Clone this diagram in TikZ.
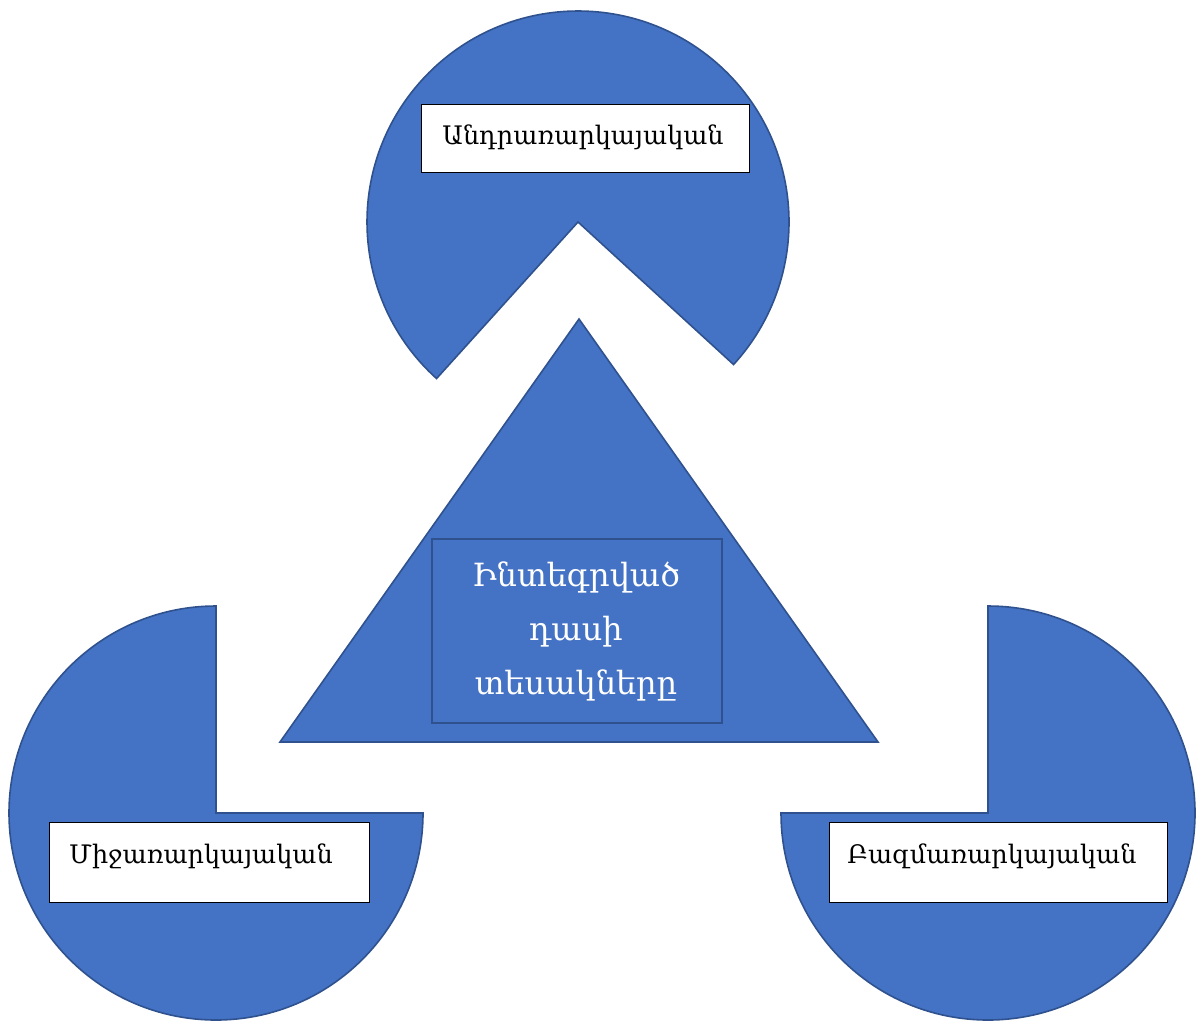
\documentclass[tikz,border=0pt]{standalone}
\usepackage{fontspec}
\setmainfont{DejaVu Serif}
\definecolor{blueF}{HTML}{4472C4}
\definecolor{blueD}{HTML}{2F528F}
\begin{document}
\begin{tikzpicture}[x=1pt,y=-1pt,
  shp/.style={fill=blueF,draw=blueD,line width=1.6pt,line join=miter},
  lblbox/.style={draw=black,fill=white,line width=0.9pt,inner sep=0pt,anchor=north west},
  lbltxt/.style={anchor=base,inner sep=0pt,font=\fontsize{25.5}{30}\selectfont},
  ctxt/.style={anchor=base,inner sep=0pt,text=white,font=\fontsize{32}{38}\selectfont}]
\useasboundingbox (0,0) rectangle (1198,1021);
% top pie
\draw[shp] (578,222) -- ++(132.1:211) arc[start angle=132.1,end angle=402.5,radius=211] -- cycle;
% bottom-left pie
\draw[shp] (216,813) -- ++(0:207) arc[start angle=0,end angle=270,radius=207] -- cycle;
% bottom-right pie
\draw[shp] (988,813) -- ++(270:207) arc[start angle=270,end angle=540,radius=207] -- cycle;
% triangle
\draw[shp] (579,319) -- (878,742) -- (280,742) -- cycle;
% centre box
\node[draw=blueD,line width=1.6pt,inner sep=0pt,minimum width=290pt,minimum height=184pt,anchor=north west] (cbox) at (431,538) {};
\node[ctxt] (c1) at (576,586) {Ինտեգրված};
\node[ctxt] (c2) at (576,640) {դասի};
\node[ctxt] (c3) at (576,694) {տեսակները};
% label boxes
\node[lblbox,minimum width=328pt,minimum height=68pt] (tbox) at (421,104) {};
\node[lbltxt] (ttxt) at (583,144) {Անդրառարկայական};
\node[lblbox,minimum width=320pt,minimum height=80pt] (lbox) at (49,822) {};
\node[lbltxt] (ltxt) at (201,863) {Միջառարկայական};
\node[lblbox,minimum width=338pt,minimum height=80pt] (rbox) at (829,822) {};
\node[lbltxt] (rtxt) at (992,863) {Բազմառարկայական};
\end{tikzpicture}
\end{document}
